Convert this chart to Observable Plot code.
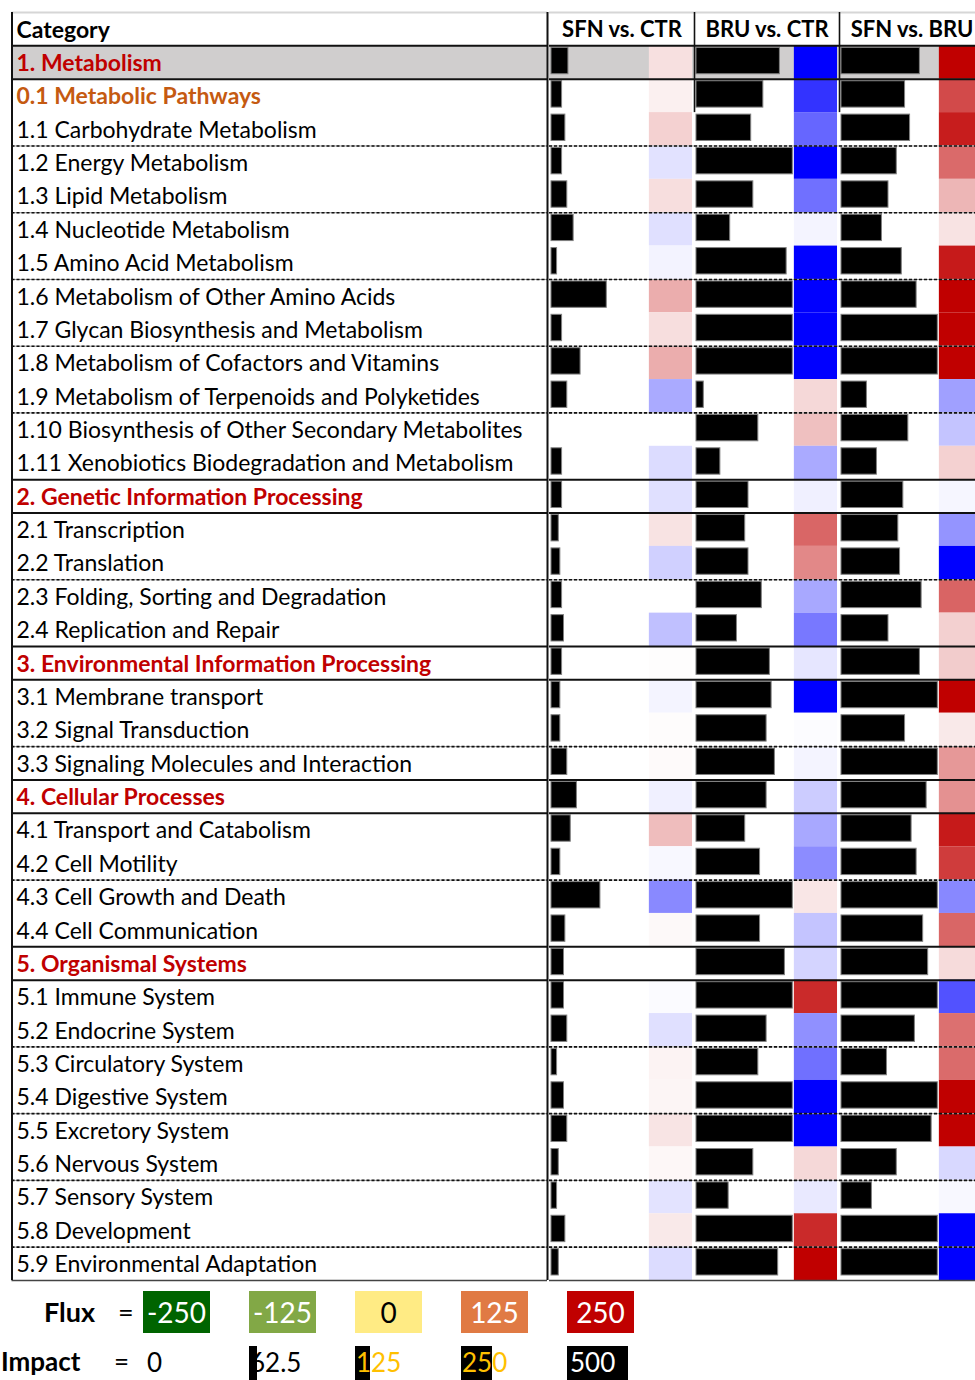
<!DOCTYPE html>
<html><head><meta charset="utf-8">
<script src="https://cdn.jsdelivr.net/npm/d3@7"></script>
<script src="https://cdn.jsdelivr.net/npm/@observablehq/plot@0.6"></script>
<style>
html,body{margin:0;padding:0;background:#fff;overflow:hidden;}
#wrap{position:relative;width:975px;height:1380px;overflow:hidden;font-family:Lato,"Open Sans",sans-serif;}
#table{display:flex;position:absolute;left:0;top:0;}
#table svg{overflow:visible;max-width:none;}
#legend{position:absolute;left:0;top:0;width:975px;height:1380px;}
.lg{position:absolute;white-space:nowrap;line-height:1;}
</style></head><body><div id="wrap"><div id="table"></div><div id="legend"></div></div>
<script>
// ---------------- data ----------------
const headerLabel = "Category";
const categories = [
  "1. Metabolism",
  "0.1 Metabolic Pathways",
  "1.1 Carbohydrate Metabolism",
  "1.2 Energy Metabolism",
  "1.3 Lipid Metabolism",
  "1.4 Nucleotide Metabolism",
  "1.5 Amino Acid Metabolism",
  "1.6 Metabolism of Other Amino Acids",
  "1.7 Glycan Biosynthesis and Metabolism",
  "1.8 Metabolism of Cofactors and Vitamins",
  "1.9 Metabolism of Terpenoids and Polyketides",
  "1.10 Biosynthesis of Other Secondary Metabolites",
  "1.11 Xenobiotics Biodegradation and Metabolism",
  "2. Genetic Information Processing",
  "2.1 Transcription",
  "2.2 Translation",
  "2.3 Folding, Sorting and Degradation",
  "2.4 Replication and Repair",
  "3. Environmental Information Processing",
  "3.1 Membrane transport",
  "3.2 Signal Transduction",
  "3.3 Signaling Molecules and Interaction",
  "4. Cellular Processes",
  "4.1 Transport and Catabolism",
  "4.2 Cell Motility",
  "4.3 Cell Growth and Death",
  "4.4 Cell Communication",
  "5. Organismal Systems",
  "5.1 Immune System",
  "5.2 Endocrine System",
  "5.3 Circulatory System",
  "5.4 Digestive System",
  "5.5 Excretory System",
  "5.6 Nervous System",
  "5.7 Sensory System",
  "5.8 Development",
  "5.9 Environmental Adaptation"
];
const comparisons = ["SFN vs. CTR", "BRU vs. CTR", "SFN vs. BRU"];

// Impact (black data bars), 0..500
const impactSFNvsCTR = [88,55,72,55,82,115,29,287,55,151,82,0,55,55,38,46,55,65,55,46,46,82,132,100,46,254,72,65,65,82,29,65,82,38,29,72,38];
const impactBRUvsCTR = [433,347,284,500,295,175,468,500,500,500,38,321,124,270,253,270,339,210,381,390,364,407,364,253,330,500,330,459,500,364,321,500,500,295,167,500,424];
const impactSFNvsBRU = [407,330,356,287,244,210,313,390,500,500,132,347,184,321,295,304,416,244,407,500,330,500,442,364,390,500,424,450,500,381,236,500,468,287,158,500,500];

// Flux (colour cells), -250..250
const fluxSFNvsCTR = [30,15,45,-28,32,-30,-12,80,32,80,-83,0,-34,-30,27,-46,0,-62,2,-11,3,5,-15,65,-7,-116,6,0,-4,-30,12,10,26,8,-27,22,-34];
const fluxBRUvsCTR = [-250,-200,-150,-250,-140,-11,-250,-250,-250,-250,38,62,-83,-15,150,117,-85,-132,-25,-250,-3,-11,-50,-85,-113,25,-58,-42,209,-109,-140,-250,-250,38,-22,209,250];
const fluxSFNvsBRU = [250,177,222,146,72,27,225,250,250,250,-93,-58,45,-9,-105,-250,152,46,50,250,22,101,108,225,191,-117,150,35,-170,140,145,250,250,-38,-7,-250,-250];

// row roles
const mainRows = [0,13,18,22,27];
const subHeadRows = [1];
const shadedRows = [0];
const solidBreaks = [0,1,13,14,18,19,22,23,27,28];
const dashedBreaks = [3,5,7,9,11,16,21,25,30,32,34,36];

// legend
const fluxLegendLabel = "Flux";
const fluxLegendValues = [-250,-125,0,125,250];
const fluxLegendColors = ["#006400","#82a846","#ffeb84","#e07a44","#c00000"];
const fluxLegendText = ["#ffffff","#ffffff","#000000","#ffffff","#ffffff"];
const impactLegendLabel = "Impact";
const impactLegendValues = [0,62.5,125,250,500];
const impactLegendText = ["#000000","#000000","#ffc000","#ffc000","#ffffff"];

// ---------------- layout ----------------
const FONT = "Lato, 'Open Sans', sans-serif";
const FS = 23;
const FSH = 22;
const nRows = categories.length;
const Y = {domain: [-1, nRows], range: [12, 1280], axis: null};
const H = 1292;

const rows = categories.map((name, i) => ({name, i}));
const isMain = d => mainRows.includes(d.i);
const isSub = d => subHeadRows.includes(d.i);

const left = Plot.plot({
  width: 548, height: H, margin: 0,
  style: {fontFamily: FONT, background: "transparent"},
  x: {domain: [0, 1], range: [11.5, 547], axis: null},
  y: Y,
  marks: [
    Plot.rect(shadedRows, {x1: 0, x2: 1, y1: d => d, y2: d => d + 1, fill: "#d0cece"}),
    Plot.text([headerLabel], {x: 0, y: -0.5, text: d => d, textAnchor: "start", dx: 4.5, dy: 1, fontSize: FS, fontWeight: "bold", fill: "black"}),
    Plot.text(rows.filter(d => !isMain(d) && !isSub(d)), {x: 0, y: d => d.i + 0.5, text: "name", textAnchor: "start", dx: 4.5, dy: 1, fontSize: FS, fill: "black"}),
    Plot.text(rows.filter(isMain), {x: 0, y: d => d.i + 0.5, text: "name", textAnchor: "start", dx: 4.5, dy: 1, fontSize: FS, fontWeight: "bold", fill: "#c00000"}),
    Plot.text(rows.filter(isSub), {x: 0, y: d => d.i + 0.5, text: "name", textAnchor: "start", dx: 4.5, dy: 1, fontSize: FS, fontWeight: "bold", fill: "#c55a11"}),
    Plot.ruleY(dashedBreaks, {x1: 0, x2: 1, y: d => d, stroke: "#999", strokeWidth: 1}),
    Plot.ruleY(dashedBreaks, {x1: 0, x2: 1, y: d => d, stroke: "#111", strokeWidth: 1.6, strokeDasharray: "3,2"}),
    Plot.ruleY(solidBreaks, {x1: 0, x2: 1, y: d => d, stroke: "#111", strokeWidth: 2}),
    Plot.ruleY([-1], {x1: 0, x2: 1, y: d => d, stroke: "#d6d6d6", strokeWidth: 2}),
    Plot.ruleY([nRows], {x1: 0, x2: 1, y: d => d, stroke: "#444", strokeWidth: 1.6}),
    Plot.ruleX([0, 1], {x: d => d, y1: -1, y2: nRows, stroke: "#111", strokeWidth: 2})
  ]
});

const impacts = [impactSFNvsCTR, impactBRUvsCTR, impactSFNvsBRU];
const fluxes = [fluxSFNvsCTR, fluxBRUvsCTR, fluxSFNvsBRU];
const cells = [];
comparisons.forEach((comp, k) => categories.forEach((name, i) =>
  cells.push({comp, name, i, impact: impacts[k][i], flux: fluxes[k][i]})));

// x in impact units inside each comparison column
const X0 = -10.3, X1 = 742.3, CELL0 = 508, CELL1 = 732;

const right = Plot.plot({
  width: 437, height: H, margin: 0,
  style: {fontFamily: FONT, background: "transparent"},
  fx: {domain: comparisons, padding: 0, axis: null},
  x: {domain: [X0, X1], axis: null},
  y: Y,
  color: {type: "linear", domain: [-250, 0, 250], range: ["#0000ff", "#ffffff", "#c00000"], interpolate: "rgb", clamp: true},
  marks: [
    Plot.rect(shadedRows, {x1: X0, x2: X1, y1: d => d, y2: d => d + 1, fill: "#d0cece"}),
    Plot.rect(cells, {fx: "comp", x1: CELL0, x2: CELL1, y1: "i", y2: d => d.i + 1, fill: "flux"}),
    Plot.rect(cells.filter(d => d.impact > 0), {fx: "comp", x1: 0, x2: "impact", y1: "i", y2: d => d.i + 1, insetTop: 2, insetBottom: 5, fill: "black", stroke: "#808080", strokeWidth: 1}),
    Plot.text(comparisons, {fx: d => d, y: -0.5, text: d => d, dy: 1, fontSize: FSH, fontWeight: "bold", fill: "black"}),
    Plot.ruleY(dashedBreaks, {y: d => d, stroke: "#999", strokeWidth: 1}),
    Plot.ruleY(dashedBreaks, {y: d => d, stroke: "#111", strokeWidth: 1.6, strokeDasharray: "3,2"}),
    Plot.ruleY(solidBreaks, {y: d => d, stroke: "#111", strokeWidth: 2}),
    Plot.ruleY([-1], {y: d => d, stroke: "#d6d6d6", strokeWidth: 2}),
    Plot.ruleY([nRows], {y: d => d, stroke: "#444", strokeWidth: 1.6}),
    Plot.ruleX(comparisons.slice(1), {fx: d => d, x: X0, y1: -1, y2: 2, stroke: "#111", strokeWidth: 1.6})
  ]
});

document.getElementById("table").append(left, right);

// ---------------- legend ----------------
const lg = document.getElementById("legend");
function add(html, css) {
  const el = document.createElement("div");
  el.className = "lg";
  el.innerHTML = html;
  Object.assign(el.style, css);
  lg.appendChild(el);
  return el;
}
const pitch = 106, firstBox = 143, boxW = 67;
add(fluxLegendLabel, {left: "44px", top: "1298px", fontSize: "27px", fontWeight: "bold"});
add("=", {left: "118px", top: "1298px", fontSize: "27px"});
fluxLegendValues.forEach((v, k) => {
  add(String(v), {left: (firstBox + k * pitch) + "px", top: "1291px", width: boxW + "px", height: "42px",
    lineHeight: "42px", textAlign: "center", background: fluxLegendColors[k], color: fluxLegendText[k], fontSize: "28px"});
});
add(impactLegendLabel, {left: "1px", top: "1348px", fontSize: "26px", fontWeight: "bold"});
add("=", {left: "114px", top: "1348px", fontSize: "26px"});
const impactBarMax = 61;
impactLegendValues.forEach((v, k) => {
  const x = k === 0 ? 146 : firstBox + k * pitch;
  if (v > 0) add("", {left: x + "px", top: "1346px", width: (v / 500 * impactBarMax) + "px", height: "34px", background: "#000"});
  add(String(v), {left: (x + (k === 4 ? 3 : 1)) + "px", top: "1349px", fontSize: "26px", color: impactLegendText[k]});
});
</script></body></html>
